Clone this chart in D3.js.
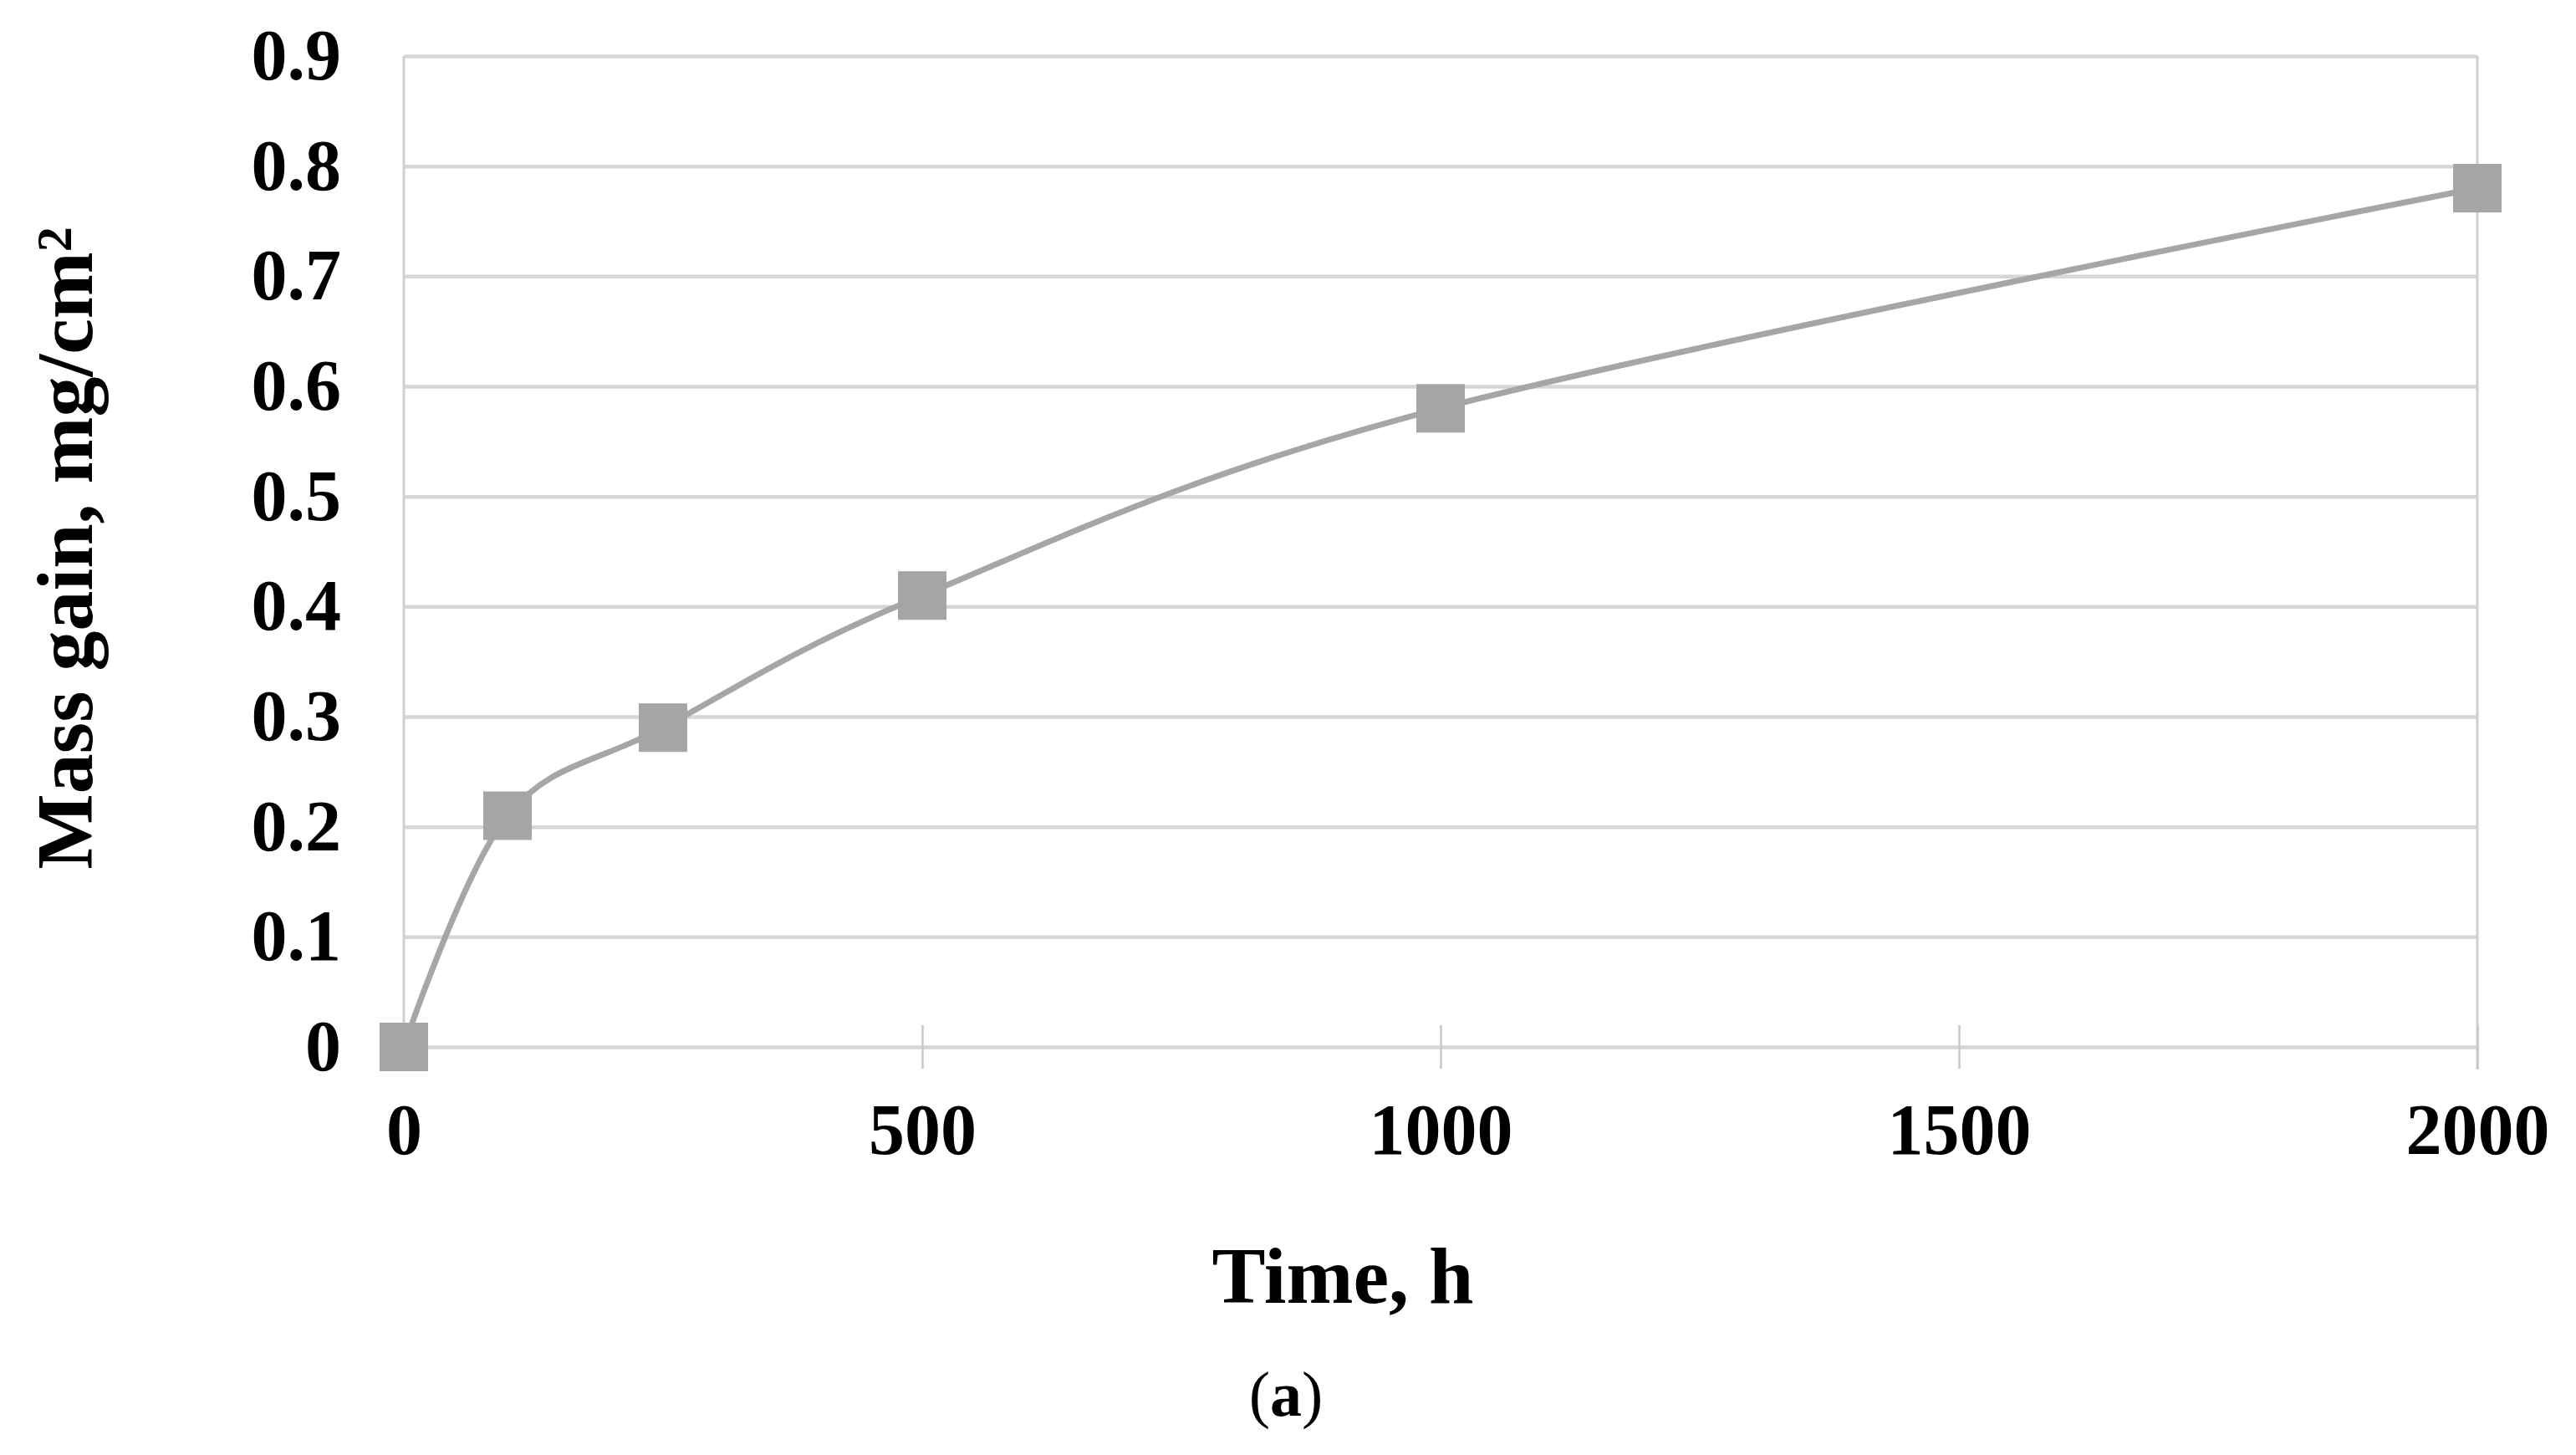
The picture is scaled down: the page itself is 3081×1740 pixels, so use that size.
<!DOCTYPE html>
<html>
<head>
<meta charset="utf-8">
<script src="https://cdn.jsdelivr.net/npm/d3@7"></script>
<style>
  body { margin: 0; background: #fff; }
  text { font-family: "Liberation Serif", "Times New Roman", serif; fill: #000; }
</style>
</head>
<body>
<svg id="chart" width="3081" height="1740"></svg>
<script>
// data
const times = [0, 100, 250, 500, 1000, 2000];
const massGain = [0, 0.21, 0.29, 0.41, 0.58, 0.78];
const xTicks = [0, 500, 1000, 1500, 2000];
const yTicks = [0, 0.1, 0.2, 0.3, 0.4, 0.5, 0.6, 0.7, 0.8, 0.9];

const W = 3081, H = 1740;
const plot = {left: 483, right: 2963, top: 67, bottom: 1252};

const svg = d3.select("#chart");
svg.append("rect").attr("width", W).attr("height", H).attr("fill", "#fff");

const x = d3.scaleLinear().domain([0, 2000]).range([plot.left, plot.right]);
const y = d3.scaleLinear().domain([0, 0.9]).range([plot.bottom, plot.top]);

// horizontal gridlines
const grid = svg.append("g")
    .attr("transform", `translate(${plot.left},0)`)
    .call(d3.axisLeft(y).tickValues(yTicks).tickSize(-(plot.right - plot.left)).tickFormat(""));
grid.select(".domain").remove();
grid.selectAll("line").attr("stroke", "#d6d6d6").attr("stroke-width", 4.5);

// vertical lines at both ends
svg.append("g").selectAll("line")
  .data([0, 2000])
  .join("line")
    .attr("x1", d => x(d)).attr("x2", d => x(d))
    .attr("y1", y(0.9)).attr("y2", d => d == 2000 ? y(0) + 27 : y(0))
    .attr("stroke", "#cfcfcf")
    .attr("stroke-width", 3);

// x axis cross ticks + labels
const xAxis = svg.append("g")
    .attr("transform", `translate(0,${y(0) - 26})`)
    .call(d3.axisBottom(x).tickValues(xTicks).tickSize(52).tickPadding(0).tickFormat(d3.format("d")));
xAxis.select(".domain").remove();
xAxis.selectAll("line").attr("stroke", "#c8c8c8").attr("stroke-width", 2.5);
xAxis.selectAll("text")
    .attr("y", 1380 - (y(0) - 26))
    .attr("dy", null)
    .style("font-size", "86px")
    .style("font-weight", "bold");

// y axis labels
const yAxis = svg.append("g")
    .attr("transform", `translate(408,0)`)
    .call(d3.axisLeft(y).tickValues(yTicks).tickSize(0).tickPadding(0).tickFormat(d => String(+d.toFixed(1))));
yAxis.select(".domain").remove();
yAxis.selectAll("text")
    .attr("dy", "0.32em")
    .style("font-size", "86px")
    .style("font-weight", "bold");

// series
const pts = times.map((t, i) => [t, massGain[i]]);
const line = d3.line()
    .x(d => x(d[0]))
    .y(d => y(d[1]))
    .curve(d3.curveCardinal.tension(0));

svg.append("path")
    .datum(pts)
    .attr("d", line)
    .attr("fill", "none")
    .attr("stroke", "#a6a6a6")
    .attr("stroke-width", 7);

const ms = 58;
svg.append("g").selectAll("rect")
  .data(pts)
  .join("rect")
    .attr("x", d => x(d[0]) - ms / 2)
    .attr("y", d => y(d[1]) - ms / 2)
    .attr("width", ms)
    .attr("height", ms)
    .attr("fill", "#a5a5a5");

// axis titles
svg.append("text")
    .attr("x", 1606)
    .attr("y", 1558)
    .attr("text-anchor", "middle")
    .style("font-size", "96px")
    .style("font-weight", "bold")
    .text("Time, h");

const yt = svg.append("text")
    .attr("transform", `translate(110,${(plot.top + plot.bottom) / 2 - 4}) rotate(-90)`)
    .attr("text-anchor", "middle")
    .style("font-size", "96px")
    .style("font-weight", "bold");
yt.append("tspan").text("Mass gain, mg/cm");
yt.append("tspan").attr("dy", "-0.42em").style("font-size", "60px").text("2");

// panel label
const lab = svg.append("text")
    .attr("x", 1538)
    .attr("y", 1693)
    .attr("text-anchor", "middle")
    .style("font-size", "76px")
    .style("font-weight", "normal");
lab.append("tspan").text("(");
lab.append("tspan").style("font-weight", "bold").text("a");
lab.append("tspan").text(")");
</script>
</body>
</html>
